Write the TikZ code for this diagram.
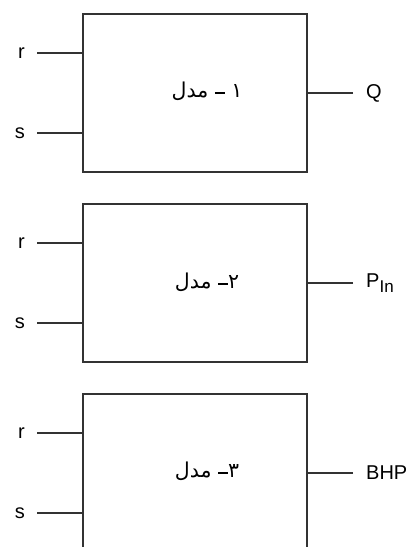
\documentclass[tikz,border=0pt]{standalone}
\usepackage{fontspec}
\setmainfont{Liberation Sans}
\newfontfamily\arabicfont[Script=Arabic]{DejaVu Sans}
\TeXXeTstate=1
\newcommand{\lowdash}{\rule[3pt]{10pt}{1.8pt}}
\begin{document}
\begin{tikzpicture}[x=1pt,y=-1pt,
  block/.style={draw=black!80,line width=1.9pt,minimum width=224pt,minimum height=158pt,inner sep=0pt},
  wire/.style={draw=black!80,line width=1.5pt},
  inlab/.style={anchor=east,inner xsep=12pt,inner ysep=0pt,font=\fontsize{20}{22}\selectfont},
  outlab/.style={anchor=west,inner xsep=13pt,inner ysep=0pt,font=\fontsize{20}{22}\selectfont},
  title/.style={font=\arabicfont\fontsize{20.5}{22}\selectfont,inner sep=0pt}]
\useasboundingbox (0,0) rectangle (410,547);
\clip (0,0) rectangle (410,547);
% model 1
\node[block] (b1) at (195,93) {};
\node[title] (t1) at (207,91) {\beginR ۱\ \lowdash\ مدل\endR};
\node[inlab] (r1) at (37,53) {r};
\node[inlab] (s1) at (37,133) {s};
\node[outlab] (o1) at (353,93) {Q};
\draw[wire] (r1) -- (r1 -| b1.west);
\draw[wire] (s1) -- (s1 -| b1.west);
\draw[wire] (o1) -- (o1 -| b1.east);
% model 2
\node[block] (b2) at (195,283) {};
\node[title] (t2) at (207,282) {\beginR ۲\lowdash\ مدل\endR};
\node[inlab] (r2) at (37,243) {r};
\node[inlab] (s2) at (37,323) {s};
\node[outlab] (o2) at (353,283) {P\raisebox{-5pt}{\fontsize{17}{18}\selectfont In}};
\draw[wire] (r2) -- (r2 -| b2.west);
\draw[wire] (s2) -- (s2 -| b2.west);
\draw[wire] (o2) -- (o2 -| b2.east);
% model 3
\node[block] (b3) at (195,473) {};
\node[title] (t3) at (207,471) {\beginR ۳\lowdash\ مدل\endR};
\node[inlab] (r3) at (37,433) {r};
\node[inlab] (s3) at (37,513) {s};
\node[outlab] (o3) at (353,473) {BHP};
\draw[wire] (r3) -- (r3 -| b3.west);
\draw[wire] (s3) -- (s3 -| b3.west);
\draw[wire] (o3) -- (o3 -| b3.east);
\end{tikzpicture}
\end{document}
